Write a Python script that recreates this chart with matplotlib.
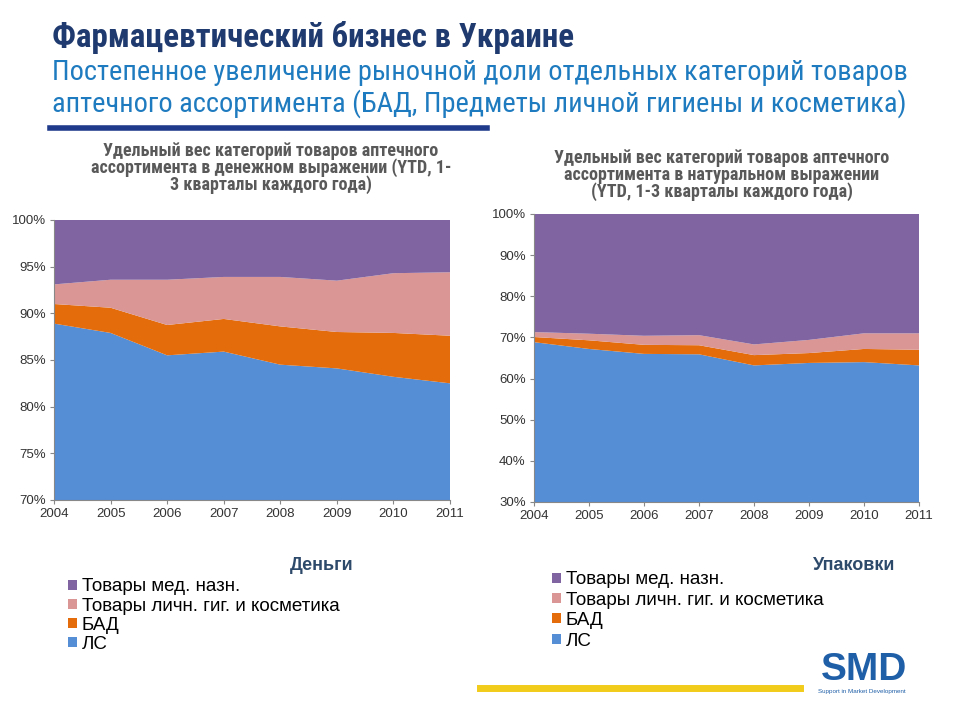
# -*- coding: utf-8 -*-
import matplotlib
matplotlib.use("Agg")
import matplotlib.pyplot as plt
from matplotlib.patches import Patch
from matplotlib.ticker import FuncFormatter

years = [2004, 2005, 2006, 2007, 2008, 2009, 2010, 2011]

# money share, %
ls_money = [88.9, 87.9, 85.5, 85.9, 84.5, 84.1, 83.2, 82.5]
bad_money = [2.1, 2.7, 3.25, 3.5, 4.1, 3.9, 4.7, 5.1]
hyg_money = [2.1, 3.0, 4.85, 4.5, 5.3, 5.5, 6.4, 6.8]
med_money = [6.9, 6.4, 6.4, 6.1, 6.1, 6.5, 5.7, 5.6]

# packages share, %
ls_pack = [68.85, 67.2, 66.0, 65.9, 63.2, 63.8, 64.0, 63.2]
bad_pack = [1.25, 2.1, 2.2, 2.2, 2.5, 2.4, 3.2, 3.8]
hyg_pack = [1.2, 1.6, 2.2, 2.45, 2.6, 3.2, 3.8, 4.0]
med_pack = [28.7, 29.1, 29.6, 29.45, 31.7, 30.6, 29.0, 29.0]

labels = ["Товары мед. назн.", "Товары личн. гиг. и косметика", "БАД", "ЛС"]
colors = ["#8064A2", "#D99694", "#E46C0A", "#558ED5"]

narrow = ["Liberation Sans Narrow", "Roboto Condensed", "Roboto", "DejaVu Sans"]
arial = ["Liberation Sans", "DejaVu Sans"]
plt.rcParams["font.family"] = arial

fig = plt.figure(figsize=(9.6, 7.2), dpi=100)


def area_chart(rect, series, ylim, yticks):
    ax = fig.add_axes(rect)
    # stack order bottom->top: ЛС, БАД, гигиена, мед.
    ax.stackplot(years, *series, colors=colors[::-1], linewidth=0)
    ax.set_xlim(years[0], years[-1])
    ax.set_ylim(*ylim)
    ax.set_xticks(years)
    ax.set_yticks(yticks)
    ax.yaxis.set_major_formatter(FuncFormatter(lambda v, p: "%d%%" % v))
    ax.tick_params(labelsize=9.5, labelcolor="#333333", length=3,
                   color="#888888", pad=3)
    for s in ["top", "right"]:
        ax.spines[s].set_visible(False)
    for s in ["left", "bottom"]:
        ax.spines[s].set_color("#888888")
        ax.spines[s].set_linewidth(0.8)
    return ax


area_chart([54 / 960, 1 - 500 / 720, 396 / 960, 280 / 720],
           [ls_money, bad_money, hyg_money, med_money],
           (70, 100), range(70, 101, 5))
area_chart([534 / 960, 1 - 502 / 720, 385 / 960, 288 / 720],
           [ls_pack, bad_pack, hyg_pack, med_pack],
           (30, 100), range(30, 101, 10))

# headings
fig.text(52 / 960, 1 - 38 / 720, "Фармацевтический бизнес в Украине",
         fontsize=23.8, fontweight="bold", color="#1F3A6E", family=narrow,
         va="center", ha="left")
fig.text(52 / 960, 1 - 73 / 720,
         "Постепенное увеличение рыночной доли отдельных категорий товаров",
         fontsize=20.4, color="#1F7BBF", family=narrow, va="center", ha="left")
fig.text(52 / 960, 1 - 104 / 720,
         "аптечного ассортимента (БАД, Предметы личной гигиены и косметика)",
         fontsize=20.4, color="#1F7BBF", family=narrow, va="center", ha="left")
fig.add_artist(plt.Line2D([50 / 960, 487 / 960], [1 - 128 / 720, 1 - 128 / 720],
                          color="#1F3A8A", linewidth=4))

fig.text(271 / 960, 1 - 168 / 720,
         "Удельный вес категорий товаров аптечного\n"
         "ассортимента в денежном выражении (YTD, 1-\n"
         "3 кварталы каждого года)",
         fontsize=13, fontweight="bold", color="#595959", family=narrow,
         ha="center", va="center", linespacing=0.9)
fig.text(722 / 960, 1 - 175 / 720,
         "Удельный вес категорий товаров аптечного\n"
         "ассортимента в натуральном выражении\n"
         "(YTD, 1-3 кварталы каждого года)",
         fontsize=13, fontweight="bold", color="#595959", family=narrow,
         ha="center", va="center", linespacing=0.9)

fig.text(353 / 960, 1 - 565 / 720, "Деньги", fontsize=13, fontweight="bold",
         color="#2E4A6B", family=arial, ha="right", va="center")
fig.text(895 / 960, 1 - 565 / 720, "Упаковки", fontsize=13, fontweight="bold",
         color="#2E4A6B", family=arial, ha="right", va="center")

handles = [Patch(facecolor=c, edgecolor="none") for c in colors]
for x, y, sp in [(59 / 960, 1 - 569 / 720, 0.12), (543 / 960, 1 - 562 / 720, 0.18)]:
    fig.legend(handles, labels, loc="upper left", bbox_to_anchor=(x, y),
               frameon=False, handlelength=0.45, handleheight=0.45,
               handletextpad=0.25, labelspacing=sp, borderpad=0,
               prop={"family": arial, "size": 13.5})

# logo strip
fig.add_artist(plt.Line2D([480 / 960, 800 / 960], [1 - 688 / 720, 1 - 688 / 720],
                          color="#F2CC1A", linewidth=5))
fig.text(864 / 960, 1 - 670 / 720, "SMD", fontsize=28, fontweight="bold",
         color="#1F5FA8", ha="center", va="center")
fig.text(862 / 960, 1 - 692 / 720, "Support in Market Development",
         fontsize=4.5, color="#1F5FA8", ha="center", va="center")

fig.savefig("out.png", dpi=100, facecolor="white")
